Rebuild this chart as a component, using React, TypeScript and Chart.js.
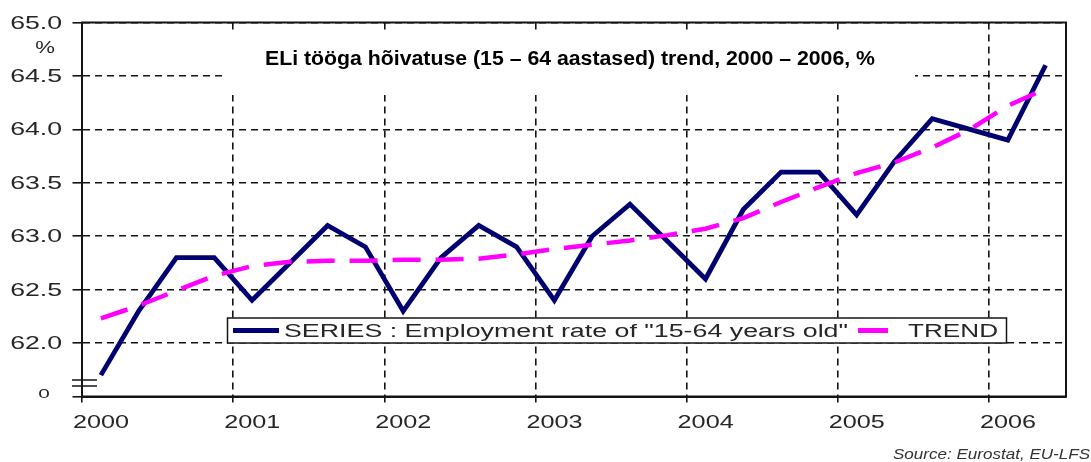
import React, { useEffect, useRef } from 'react';
import { Chart, registerables } from 'chart.js';

Chart.register(...registerables);

// ---- data ----
const quarters = [
  '2000Q1', '2000Q2', '2000Q3', '2000Q4',
  '2001Q1', '2001Q2', '2001Q3', '2001Q4',
  '2002Q1', '2002Q2', '2002Q3', '2002Q4',
  '2003Q1', '2003Q2', '2003Q3', '2003Q4',
  '2004Q1', '2004Q2', '2004Q3', '2004Q4',
  '2005Q1', '2005Q2', '2005Q3', '2005Q4',
  '2006Q1', '2006Q2',
];
const seriesValues = [
  61.7, 62.3, 62.8, 62.8,
  62.4, 62.75, 63.1, 62.9,
  62.3, 62.8, 63.1, 62.9,
  62.4, 63.0, 63.3, 62.95,
  62.6, 63.25, 63.6, 63.6,
  63.2, 63.7, 64.1, 64.0,
  63.9, 64.6,
];
const trendValues = [
  62.23, 62.35, 62.49, 62.63,
  62.72, 62.76, 62.77, 62.77,
  62.78, 62.78, 62.79, 62.83,
  62.88, 62.92, 62.96, 63.01,
  63.07, 63.17, 63.32, 63.46,
  63.59, 63.69, 63.83, 64.0,
  64.22, 64.38,
];
const yearTicks = [2000, 2001, 2002, 2003, 2004, 2005, 2006];
const yMin = 61.5;
const yMax = 65.0;
const yStep = 0.5;
const xMin = 2000;
const xMax = 2006.51;

const titleText = 'ELi tööga hõivatuse (15 – 64 aastased) trend, 2000 – 2006, %';
const seriesLabel = 'SERIES : Employment rate of "15-64 years old"';
const trendLabel = 'TREND';
const sourceText = 'Source: Eurostat, EU-LFS';
const unitText = '%';
const breakLabel = '0';

const NAVY = '#000070';
const MAGENTA = '#ff00ff';
const INK = '#141414';
const TEXT = '#262626';
const FONT = '"Liberation Sans", Arial, Helvetica, sans-serif';

const quarterToX = (q: string) => {
  const year = parseInt(q.slice(0, 4), 10);
  const qi = parseInt(q.slice(5), 10);
  return year + (qi - 0.5) / 4;
};

function stretchText(
  ctx: CanvasRenderingContext2D,
  text: string,
  x: number,
  y: number,
  font: string,
  sx: number,
  align: 'left' | 'right' | 'center',
) {
  ctx.font = font;
  const w = ctx.measureText(text).width * sx;
  const left = align === 'left' ? x : align === 'right' ? x - w : x - w / 2;
  ctx.save();
  ctx.translate(left, y);
  ctx.scale(sx, 1);
  ctx.textAlign = 'left';
  ctx.textBaseline = 'alphabetic';
  ctx.fillText(text, 0, 0);
  ctx.restore();
}

function fitText(
  ctx: CanvasRenderingContext2D,
  text: string,
  left: number,
  y: number,
  font: string,
  width: number,
) {
  ctx.font = font;
  const sx = width / ctx.measureText(text).width;
  stretchText(ctx, text, left, y, font, sx, 'left');
}

const decorPlugin = {
  id: 'decor',
  beforeDatasetsDraw(chart: any) {
    const ctx: CanvasRenderingContext2D = chart.ctx;
    ctx.save();
    // title box
    ctx.fillStyle = '#ffffff';
    ctx.fillRect(225, 34, 690, 61);
    ctx.fillStyle = '#000000';
    fitText(ctx, titleText, 265, 65, `bold 20px ${FONT}`, 610);

    // legend box
    ctx.fillStyle = '#ffffff';
    ctx.fillRect(227.5, 318, 779, 25);
    ctx.strokeStyle = INK;
    ctx.lineWidth = 1.5;
    ctx.setLineDash([]);
    ctx.strokeRect(227.5, 318, 779, 25);

    ctx.lineWidth = 5;
    ctx.strokeStyle = NAVY;
    ctx.beginPath();
    ctx.moveTo(233, 330.5);
    ctx.lineTo(279, 330.5);
    ctx.stroke();
    ctx.strokeStyle = MAGENTA;
    ctx.beginPath();
    ctx.moveTo(858, 330.5);
    ctx.lineTo(888, 330.5);
    ctx.stroke();

    ctx.fillStyle = TEXT;
    fitText(ctx, seriesLabel, 284, 337, `18px ${FONT}`, 564);
    fitText(ctx, trendLabel, 908, 337, `18px ${FONT}`, 90);
    ctx.restore();
  },
  afterDraw(chart: any) {
    const ctx: CanvasRenderingContext2D = chart.ctx;
    const { left, top, right, bottom } = chart.chartArea;
    ctx.save();
    ctx.setLineDash([]);
    ctx.strokeStyle = INK;
    ctx.lineWidth = 2;
    ctx.strokeRect(left, top, right - left, bottom - top);

    // axis break marks
    ctx.lineWidth = 1.5;
    ctx.beginPath();
    ctx.moveTo(72, 380);
    ctx.lineTo(97, 380);
    ctx.moveTo(72, 386);
    ctx.lineTo(97, 386);
    ctx.stroke();

    // y tick labels
    ctx.fillStyle = TEXT;
    const ys = chart.scales.y;
    ys.ticks.forEach((t: any) => {
      const py = ys.getPixelForValue(t.value);
      if (Math.abs(t.value - yMin) < 1e-6) {
        stretchText(ctx, breakLabel, 44, py + 1.5, `13px ${FONT}`, 1.6, 'center');
      } else {
        stretchText(ctx, String(t.label), 62, py + 6, `18px ${FONT}`, 1.48, 'right');
      }
    });
    stretchText(ctx, unitText, 45, 53, `17px ${FONT}`, 1.3, 'center');

    // x tick labels
    const xs = chart.scales.x;
    xs.ticks.forEach((t: any) => {
      const px = xs.getPixelForValue(t.value);
      stretchText(ctx, String(t.label), px - 9, 428, `18px ${FONT}`, 1.4, 'left');
    });

    // source
    ctx.fillStyle = '#333333';
    fitText(ctx, sourceText, 893, 459, `italic 15px ${FONT}`, 197);
    ctx.restore();
  },
};

export default function App() {
  const canvasRef = useRef<HTMLCanvasElement | null>(null);

  useEffect(() => {
    document.body.style.margin = '0';
    const canvas = canvasRef.current;
    if (!canvas) return;
    const chart = new Chart(canvas, {
      type: 'line',
      data: {
        datasets: [
          {
            label: seriesLabel,
            data: quarters.map((q, i) => ({ x: quarterToX(q), y: seriesValues[i] })),
            borderColor: NAVY,
            borderWidth: 4.8,
            pointRadius: 0,
            tension: 0,
            fill: false,
            order: 2,
          },
          {
            label: trendLabel,
            data: quarters.map((q, i) => ({ x: quarterToX(q), y: trendValues[i] })),
            borderColor: MAGENTA,
            borderWidth: 4.5,
            borderDash: [28, 15],
            pointRadius: 0,
            tension: 0,
            fill: false,
            order: 1,
          },
        ],
      },
      options: {
        responsive: false,
        animation: false,
        events: [],
        layout: { padding: { left: 0, top: 22.5, right: 25, bottom: 0 } },
        plugins: {
          legend: { display: false },
          title: { display: false },
          tooltip: { enabled: false },
        },
        scales: {
          x: {
            type: 'linear',
            min: xMin,
            max: xMax,
            afterBuildTicks: (scale: any) => {
              scale.ticks = yearTicks.map((v) => ({ value: v }));
            },
            afterFit: (scale: any) => {
              scale.height = 65.5;
            },
            ticks: {
              display: false,
              callback: (v: any) => String(v),
            },
            grid: {
              color: INK,
              lineWidth: 1.6,
              drawTicks: true,
              tickLength: 6,
              tickColor: INK,
              tickWidth: 1.6,
              tickBorderDash: [],
            },
            border: { display: true, color: INK, width: 2, dash: [7, 5] },
          },
          y: {
            type: 'linear',
            min: yMin,
            max: yMax,
            afterFit: (scale: any) => {
              scale.width = 82;
            },
            ticks: {
              display: false,
              stepSize: yStep,
              callback: (v: any) => Number(v).toFixed(1),
            },
            grid: {
              color: INK,
              lineWidth: 1.6,
              drawTicks: true,
              tickLength: 9.5,
              tickColor: INK,
              tickWidth: 1.6,
              tickBorderDash: [],
            },
            border: { display: true, color: INK, width: 2, dash: [7, 5] },
          },
        },
      },
      plugins: [decorPlugin],
    } as any);
    return () => chart.destroy();
  }, []);

  return (
    <canvas
      ref={canvasRef}
      width={1091}
      height={462}
      style={{ display: 'block', width: '1091px', height: '462px' }}
    />
  );
}
